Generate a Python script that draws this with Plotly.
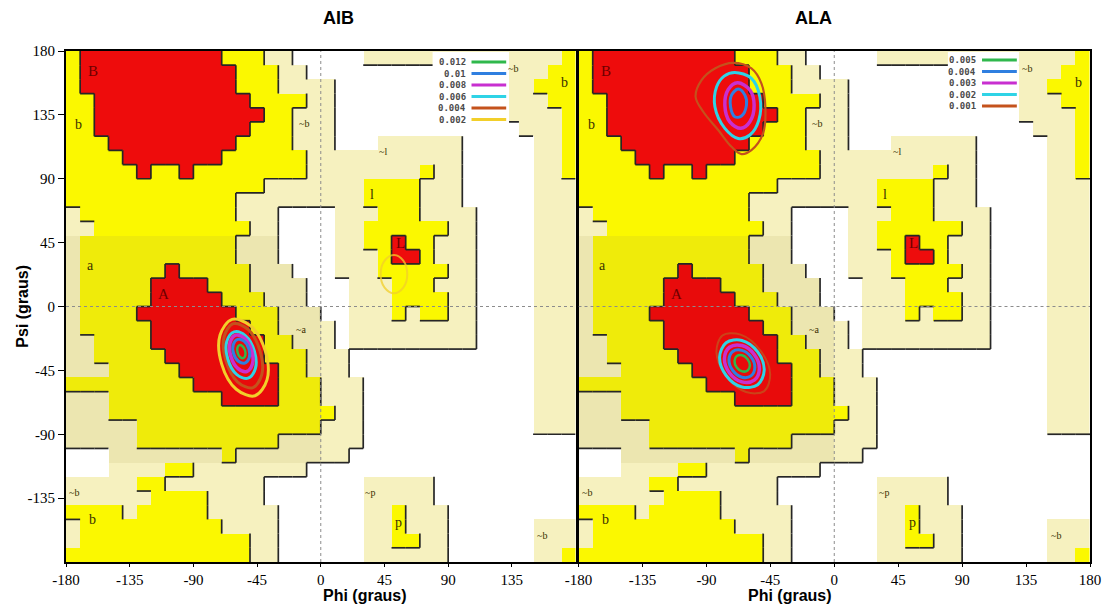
import plotly.graph_objects as go

# ---------------- data ----------------
PHI_CENTERS = list(range(-175, 180, 10))
PSI_CENTERS = list(range(175, -180, -10))

# Ramachandran region map (row 0 = psi 170..180, col 0 = phi -180..-170)
# R = core, Y = allowed, P = generously allowed, W = disallowed
REGION_ROWS = [
    "YRRRRRRRRRRYYYPPWWWWWPPPPPPPPPPPPPPY",
    "YRRRRRRRRRRRYYYPPWWWWWWWWWWWWWWPPPYY",
    "YRRRRRRRRRRRYYYPPPPWWWWWWWWWWWWPPYYY",
    "YYRRRRRRRRRRRYYYYPPWWWWWWWWWWWWPPPYY",
    "YYRRRRRRRRRRRRYYPPPWWWWWWWWWWWWPPPPY",
    "YYRRRRRRRRRRRYYYPPPWWWWWWWWWWWWWPPPY",
    "YYYRRRRRRRRRYYYYPPPWWWPPPPPPWWWWWPPY",
    "YYYYRRRRRRRYYYYYYPPPPPPPPPPPWWWWWPPY",
    "YYYYYRYYRYYYYYYYYPPPPPPPPYPPWWWWWPPY",
    "YYYYYYYYYYYYYYPPPPPPPYYYYPPPWWWWWPPP",
    "YYYYYYYYYYYYPPPPPPPPPYYYYPPPWWWWWPPP",
    "PYYYYYYYYYYYPPPWWWWPPPYYYPPPPWWWWPPP",
    "PPYYYYYYYYYYYPPWWWWPPYYYYYYPPWWWWPPP",
    "PYYYYYYYYYYYPPPWWWWPPYYRYYPPPWWWWPPP",
    "PYYYYYYYYYYYPPPWWWWPPPYRRYPPPWWWWPPP",
    "PYYYYYYRYYYYYPPPWWWPPPYYYYYPPWWWWPPP",
    "PYYYYYRRRRYYYPPPPWWWPPPYYYPPPWWWWPPP",
    "PYYYYYRRRRRYYYPPPWWWPPPYYYYPPWWWWPPP",
    "PYYYYRRRRRRRYYYPPPWWPPPYPYYPPWWWWPPP",
    "PYYYYYRRRRRRRYYPPPPWPPPPPPPPPWWWWPPP",
    "PPYYYYRRRRRRRRYYPPPWPPPPPPPPPWWWWPPP",
    "PPYYYYYRRRRRRRYYYPPPWWWWWWWWWWWWWPPP",
    "PPPYYYYYRRRRRRRYYPPPWWWWWWWWWWWWWPPP",
    "YYYYYYYYYRRRRRRYYYPPPWWWWWWWWWWWWPPP",
    "PPPYYYYYYYYRRRRYYYPPPWWWWWWWWWWWWPPP",
    "PPPYYYYYYYYYYYYYYYYPPWWWWWWWWWWWWPPP",
    "PPPPPYYYYYYYYYYYYYPPPWWWWWWWWWWWWPPP",
    "PPPPPYYYYYYYYYYPPPPPPWWWWWWWWWWWWWWW",
    "WWWPPPPPPPPYPPPPPPPPWWWWWWWWWWWWWWWW",
    "WWWPPPPYYPPPPPPPPWWWWWWWWWWWWWWWWWWW",
    "PPPPPYYPPPPPPPWWWWWWWPPPPPWWWWWWWWWW",
    "PPPPPPYYYYPPPPWWWWWWWPPPPPWWWWWWWWWW",
    "YYYYPYYYYYPPPPPWWWWWWPPYPPPWWWWWWWWW",
    "PYYYYYYYYYYPPPPWWWWWWPPYPPPWWWWWWPPP",
    "PYYYYYYYYYYYYPPWWWWWWPPYYPPWWWWWWPPP",
    "YYYYYYYYYYYYYPPWWWWWWPPPPPPWWWWWWPPY",
]
REGION_LEVEL = {"W": 0, "P": 1, "Y": 2, "R": 3}
SHADED_ROWS = (13, 28)   # scan shading band (rows)
SHADED_COLS = (0, 17)    # scan shading band (cols)
REGION_COLORS = ["#ffffff", "#f6f1bf", "#fbf800", "#ee0c0c",
                 "#ffffff", "#ece6b0", "#efeb0a", "#e80b0b"]

REGION_LABELS = ["B", "b", "~b", "~l", "l", "L", "a", "A", "~a",
                 "~b", "b", "~b", "b", "~p", "p", "~b"]
LABEL_PHI = [-161, -171, -12, 44, 36, 56, -163, -111, -14,
             136, 172, -174, -161, 35, 55, 156]
LABEL_PSI = [166, 128, 129, 109, 79, 45, 29, 9, -16,
             168, 158, -131, -150, -131, -152, -161]

# AIB contour levels
AIB_LEVELS = ["0.012", "0.01", "0.008", "0.006", "0.004", "0.002"]
AIB_COLORS = ["#2fb84c", "#2f7fe0", "#c82fd0", "#2fd3e6", "#c4521c", "#f2cf2a"]
AIB_A_002_PHI = [-46.5, -38.0, -39.2, -49.5, -62.7, -71.2, -70.0, -59.7]
AIB_A_002_PSI = [-62.9, -51.7, -31.4, -13.7, -9.1, -20.3, -40.6, -58.3]
AIB_L_002_PHI = [51.7, 58.3, 61.1, 58.3, 51.7, 45.1, 42.3, 45.1]
AIB_L_002_PSI = [36.3, 32.3, 22.8, 13.3, 9.3, 13.3, 22.8, 32.3]
AIB_A_004_PHI = [-48.2, -41.7, -43.0, -51.3, -61.8, -68.3, -67.0, -58.7]
AIB_A_004_PSI = [-57.3, -48.1, -31.1, -16.2, -12.1, -21.3, -38.3, -53.2]
AIB_A_006_PHI = [-51.4, -46.2, -46.9, -53.1, -61.2, -66.4, -65.7, -59.5]
AIB_A_006_PSI = [-50.5, -43.7, -31.4, -20.7, -17.9, -24.7, -37.0, -47.8]
AIB_A_008_PHI = [-52.3, -48.3, -48.9, -53.8, -60.1, -64.1, -63.5, -58.6]
AIB_A_008_PSI = [-45.8, -40.5, -30.8, -22.4, -20.2, -25.5, -35.2, -43.6]
AIB_A_010_PHI = [-53.7, -50.6, -50.8, -54.2, -58.7, -61.8, -61.6, -58.2]
AIB_A_010_PSI = [-39.9, -36.3, -29.9, -24.4, -23.2, -26.7, -33.1, -38.6]
AIB_A_012_PHI = [-54.7, -53.3, -53.5, -55.3, -57.5, -58.9, -58.7, -57.0]
AIB_A_012_PSI = [-36.4, -34.5, -31.0, -28.0, -27.2, -29.1, -32.6, -35.6]

# ALA contour levels
ALA_LEVELS = ["0.005", "0.004", "0.003", "0.002", "0.001"]
ALA_COLORS = ["#2fb84c", "#2f7fe0", "#c82fd0", "#2fd3e6", "#c4521c"]
ALA_B_001_PHI = [-71.1, -58.3, -51.3, -48.5, -50.1, -58.3, -65.3, -72.3, -81.7, -92.2, -97.6, -93.4, -84.0]
ALA_B_001_PSI = [171.7, 167.7, 157.2, 140.7, 122.0, 110.2, 107.4, 112.5, 124.3, 137.2, 147.8, 159.5, 167.7]
ALA_B_002_PHI = [-70.0, -58.3, -52.4, -53.1, -59.4, -67.6, -77.0, -84.0, -82.8, -77.5]
ALA_B_002_PSI = [164.9, 160.7, 147.8, 131.3, 120.8, 118.4, 125.5, 140.7, 154.8, 162.3]
ALA_B_003_PHI = [-68.1, -59.4, -56.4, -59.4, -65.7, -73.5, -77.0, -74.6]
ALA_B_003_PSI = [157.6, 152.5, 141.9, 130.1, 125.5, 130.1, 141.9, 152.9]
ALA_B_004_PHI = [-67.6, -62.9, -61.8, -65.3, -70.0, -73.0, -72.3]
ALA_B_004_PSI = [153.2, 148.9, 141.9, 134.2, 133.7, 140.7, 148.9]
ALA_A_001_PHI = [-49.3, -45.1, -52.0, -65.9, -78.7, -82.9, -76.0, -62.1]
ALA_A_001_PSI = [-59.6, -47.5, -31.0, -19.8, -20.4, -32.5, -49.0, -60.2]
ALA_A_002_PHI = [-53.9, -49.3, -53.9, -65.0, -76.1, -80.7, -76.1, -65.0]
ALA_A_002_PSI = [-55.1, -44.9, -32.0, -23.9, -25.5, -35.7, -48.6, -56.7]
ALA_A_003_PHI = [-56.3, -52.7, -56.3, -65.0, -73.7, -77.3, -73.7, -65.0]
ALA_A_003_PSI = [-51.9, -43.9, -33.8, -27.5, -28.7, -36.7, -46.8, -53.1]
ALA_A_004_PHI = [-58.6, -55.9, -58.6, -65.0, -71.4, -74.1, -71.4, -65.0]
ALA_A_004_PSI = [-48.9, -43.0, -35.5, -30.9, -31.7, -37.6, -45.1, -49.8]
ALA_A_005_PHI = [-61.0, -59.4, -61.0, -64.8, -68.6, -70.2, -68.6, -64.8]
ALA_A_005_PSI = [-45.1, -41.6, -37.1, -34.3, -34.9, -38.4, -42.9, -45.7]

X_TICKS_LEFT = [-180, -135, -90, -45, 0, 45, 90, 135]
X_TICKS_RIGHT = [-180, -135, -90, -45, 0, 45, 90, 135, 180]
Y_TICKS = [180, 135, 90, 45, 0, -45, -90, -135]

# ---------------- build ----------------
z = []
for r, row in enumerate(REGION_ROWS):
    zr = []
    for c, ch in enumerate(row):
        v = REGION_LEVEL[ch]
        if SHADED_ROWS[0] <= r <= SHADED_ROWS[1] and SHADED_COLS[0] <= c <= SHADED_COLS[1]:
            v += 4
        zr.append(v)
    z.append(zr)

n = len(REGION_COLORS)
cscale = []
for k, col in enumerate(REGION_COLORS):
    cscale.append([k / n, col])
    cscale.append([(k + 1) / n, col])

# boundary (shadow) lines
bx, by = [], []
for r in range(36):
    for c in range(36):
        a = REGION_ROWS[r][c]
        la = REGION_LEVEL[a]
        if c < 35:
            b = REGION_ROWS[r][c + 1]
            lb = REGION_LEVEL[b]
            if la > lb or (a != b and b == "R"):
                x = -180 + 10 * (c + 1)
                bx += [x, x, None]
                by += [180 - 10 * r, 170 - 10 * r, None]
        if r < 35:
            b = REGION_ROWS[r + 1][c]
            lb = REGION_LEVEL[b]
            if la > lb or (a != b and b == "R"):
                y = 170 - 10 * r
                bx += [-180 + 10 * c, -170 + 10 * c, None]
                by += [y, y, None]

fig = go.Figure()

for xa, ya in (("x", "y"), ("x2", "y2")):
    fig.add_trace(go.Heatmap(
        x=PHI_CENTERS, y=PSI_CENTERS, z=z, colorscale=cscale,
        zmin=-0.5, zmax=n - 0.5, showscale=False, hoverinfo="skip",
        xaxis=xa, yaxis=ya))
    fig.add_trace(go.Scatter(
        x=bx, y=by, mode="lines", line=dict(color="#262626", width=1.7),
        hoverinfo="skip", xaxis=xa, yaxis=ya))


def ring(phi, psi, color, width, xa, ya, opacity=1.0):
    fig.add_trace(go.Scatter(
        x=phi + phi[:1], y=psi + psi[:1], mode="lines",
        line=dict(color=color, width=width, shape="spline", smoothing=1.0),
        opacity=opacity, hoverinfo="skip", xaxis=xa, yaxis=ya))


# AIB rings (outer -> inner)
ring(AIB_L_002_PHI, AIB_L_002_PSI, AIB_COLORS[5], 2, "x", "y", 0.75)
ring(AIB_A_002_PHI, AIB_A_002_PSI, AIB_COLORS[5], 3, "x", "y")
ring(AIB_A_004_PHI, AIB_A_004_PSI, AIB_COLORS[4], 3, "x", "y")
ring(AIB_A_006_PHI, AIB_A_006_PSI, AIB_COLORS[3], 3, "x", "y")
ring(AIB_A_008_PHI, AIB_A_008_PSI, AIB_COLORS[2], 3.5, "x", "y")
ring(AIB_A_010_PHI, AIB_A_010_PSI, AIB_COLORS[1], 3, "x", "y")
ring(AIB_A_012_PHI, AIB_A_012_PSI, AIB_COLORS[0], 2.5, "x", "y")

# ALA rings
ring(ALA_B_001_PHI, ALA_B_001_PSI, ALA_COLORS[4], 2.2, "x2", "y2")
ring(ALA_B_002_PHI, ALA_B_002_PSI, ALA_COLORS[3], 3, "x2", "y2")
ring(ALA_B_003_PHI, ALA_B_003_PSI, ALA_COLORS[2], 3.5, "x2", "y2")
ring(ALA_B_004_PHI, ALA_B_004_PSI, ALA_COLORS[1], 3, "x2", "y2")
ring(ALA_A_001_PHI, ALA_A_001_PSI, ALA_COLORS[4], 2, "x2", "y2", 0.8)
ring(ALA_A_002_PHI, ALA_A_002_PSI, ALA_COLORS[3], 3, "x2", "y2")
ring(ALA_A_003_PHI, ALA_A_003_PSI, ALA_COLORS[2], 3.5, "x2", "y2")
ring(ALA_A_004_PHI, ALA_A_004_PSI, ALA_COLORS[1], 3, "x2", "y2")
ring(ALA_A_005_PHI, ALA_A_005_PSI, ALA_COLORS[0], 2.5, "x2", "y2")

shapes = []
annotations = []
for xa, ya in (("x", "y"), ("x2", "y2")):
    shapes.append(dict(type="line", xref=xa, yref=ya, x0=0, x1=0, y0=-180, y1=180,
                       line=dict(color="#8c8c8c", width=1, dash="dot"), layer="above"))
    shapes.append(dict(type="line", xref=xa, yref=ya, x0=-180, x1=180, y0=0, y1=0,
                       line=dict(color="#8c8c8c", width=1, dash="dot"), layer="above"))
    for t, px, py in zip(REGION_LABELS, LABEL_PHI, LABEL_PSI):
        on_red = t in ("A", "B", "L")
        small = t.startswith("~")
        annotations.append(dict(
            xref=xa, yref=ya, x=px, y=py, text=t, showarrow=False,
            font=dict(family="Liberation Serif", size=10 if small else (15 if on_red else 14),
                      color="#6e0000" if on_red else "#3a3000")))


def legend_box(xa, ya, x0, x1, y0, y1, levels, colors, rows, text_x, lx0, lx1):
    shapes.append(dict(type="rect", xref=xa, yref=ya, x0=x0, x1=x1, y0=y0, y1=y1,
                       fillcolor="white", line=dict(width=0), layer="above"))
    for lev, col, ry in zip(levels, colors, rows):
        shapes.append(dict(type="line", xref=xa, yref=ya, x0=lx0, x1=lx1, y0=ry, y1=ry,
                           line=dict(color=col, width=3), layer="above"))
        annotations.append(dict(xref=xa, yref=ya, x=text_x, y=ry, text="<b>" + lev + "</b>",
                                showarrow=False, xanchor="right", yanchor="middle",
                                font=dict(family="DejaVu Sans Mono", size=9, color="#4a4a4a")))


legend_box("x", "y", 79, 133, 127, 179.3, AIB_LEVELS, AIB_COLORS,
           [172.2, 164.1, 156.0, 147.9, 139.8, 131.7], 104, 106.5, 131)
legend_box("x2", "y2", 80, 130, 134, 179.3, ALA_LEVELS, ALA_COLORS,
           [173.6, 165.5, 157.4, 149.3, 141.2], 101.5, 104, 128.5)

annotations.append(dict(xref="paper", yref="paper", x=0.2488, y=1.0646, text="<b>AIB</b>",
                        showarrow=False, yanchor="middle",
                        font=dict(family="Liberation Sans", size=18, color="black")))
annotations.append(dict(xref="paper", yref="paper", x=0.7502, y=1.0646, text="<b>ALA</b>",
                        showarrow=False, yanchor="middle",
                        font=dict(family="Liberation Sans", size=18, color="black")))
annotations.append(dict(xref="paper", yref="paper", x=0.2488, y=-0.0655, text="<b>Phi (graus)</b>",
                        showarrow=False, yanchor="middle",
                        font=dict(family="Liberation Sans", size=16, color="black")))
annotations.append(dict(xref="paper", yref="paper", x=0.7502, y=-0.0655, text="<b>Phi (graus)</b>",
                        showarrow=False, yanchor="middle",
                        font=dict(family="Liberation Sans", size=16, color="black")))
annotations.append(dict(xref="paper", yref="paper", x=-0.0428, y=0.5, text="<b>Psi (graus)</b>",
                        showarrow=False, textangle=-90, xanchor="center", yanchor="middle",
                        font=dict(family="Liberation Sans", size=16, color="black")))

tickfont = dict(family="Liberation Serif", size=15, color="black")
axis_common = dict(range=[-180, 180], showgrid=False, zeroline=False, showline=True,
                   mirror=True, linewidth=2, linecolor="black", ticks="outside",
                   tickcolor="black", tickfont=tickfont)

fig.update_layout(
    width=1113, height=607,
    margin=dict(l=66, r=20, t=51, b=45),
    paper_bgcolor="white", plot_bgcolor="white",
    showlegend=False,
    xaxis=dict(domain=[0, 0.4976], anchor="y", tickvals=X_TICKS_LEFT,
               ticktext=[str(v) for v in X_TICKS_LEFT], ticklen=3, **axis_common),
    yaxis=dict(domain=[0, 1], anchor="x", tickvals=Y_TICKS,
               ticktext=[str(v) for v in Y_TICKS], ticklen=6, **axis_common),
    xaxis2=dict(domain=[0.5005, 1], anchor="y2", tickvals=X_TICKS_RIGHT,
                ticktext=[str(v) for v in X_TICKS_RIGHT], ticklen=3, **axis_common),
    yaxis2=dict(domain=[0, 1], anchor="x2", showticklabels=False,
                **{k: v for k, v in axis_common.items() if k not in ("ticks",)}, ticks=""),
    shapes=shapes,
    annotations=annotations,
)

fig.write_html("out.html")
